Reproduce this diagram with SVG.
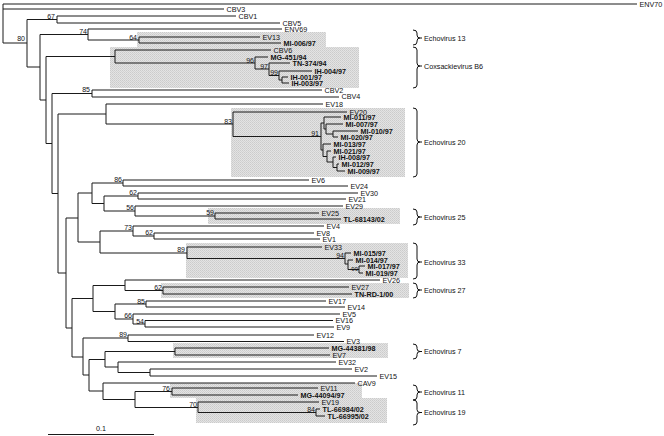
<svg xmlns="http://www.w3.org/2000/svg" width="664" height="436" viewBox="0 0 664 436">
<style>
text{font-family:"Liberation Sans",Arial,sans-serif;font-size:7.2px;fill:#111}
.b{font-weight:bold}
.bs{font-size:7px;text-anchor:end}
.tree{fill:none;stroke:#1a1a1a;stroke-width:1}
.br{fill:none;stroke:#111;stroke-width:1}
.box{fill:url(#dots);stroke:none}
</style>
<defs>
<pattern id="dots" width="2" height="2" patternUnits="userSpaceOnUse">
<rect width="2" height="2" fill="#e3e3e3"/>
<rect width="1" height="1" fill="#cbcbcb"/>
<rect x="1" y="1" width="1" height="1" fill="#d2d2d2"/>
</pattern>
</defs>
<rect width="664" height="436" fill="#fff"/>
<g id="clade-boxes">
<rect class="box" x="137" y="32" width="189" height="16"/>
<rect class="box" x="110" y="47" width="249" height="41"/>
<rect class="box" x="231" y="108" width="174" height="69"/>
<rect class="box" x="208" y="208" width="192" height="16"/>
<rect class="box" x="186" y="243" width="222" height="35"/>
<rect class="box" x="161" y="283" width="248" height="15"/>
<rect class="box" x="173" y="343" width="215" height="15"/>
<rect class="box" x="170" y="383" width="192" height="15"/>
<rect class="box" x="196" y="398" width="191" height="25"/>
</g>
<g id="connectors">
<path class="tree" d="M3,4V43M3,4H637M3,9H224M3,43H27
M27,19.5V67M27,19.5H57M27,67H40
M57,16V23M57,16H236M57,23H280
M40,34.5V100M40,34.5H88M40,100H46
M88,29V40M88,29H282M88,40H139
M139,37V43M139,37H260M139,43H281
M46,56.5V143.5M46,56.5H115M46,143.5H52
M115,50V63M115,50H271M115,63H255
M255,57V69M255,57H268M255,69H269
M269,63V75.5M269,63H290M269,75.5H279
M279,71V80M279,71H312M279,80H282
M282,77V83M282,77H288M282,83H289
M52,93.5V193.5M52,93.5H92M52,193.5H58
M92,90V97M92,90H322M92,97H339
M58,114V273M58,114H106M58,273H66
M106,104V124M106,104H323M106,124H233
M233,112V136.5M233,112H347M233,136.5H321
M321,123V150M321,123H324M321,150H323
M324,117V129M324,117H341M324,129H326
M326,124V134M326,124H343M326,134H333
M333,131V137M333,131H358M333,137H338
M323,144V156.5M323,144H331M323,156.5H327
M327,151V162M327,151H331M327,162H333
M333,157V167.5M333,157H336M333,167.5H337
M337,164V171M337,164H339M337,171H345
M66,218V328M66,218H78M66,328H72
M78,193V242M78,193H92M78,242H100
M92,183V203.5M92,183H123M92,203.5H104
M123,180V186M123,180H309M123,186H348
M104,196V211M104,196H138M104,211H135
M138,193V199M138,193H358M138,199H346
M135,206V216M135,206H343M135,216H215
M215,213V219M215,213H319M215,219H341
M100,231V253M100,231H133M100,253H187
M133,226V236M133,226H324M133,236H154
M154,233V239M154,233H314M154,239H320
M187,247V258.5M187,247H322M187,258.5H345
M345,253V264M345,253H351M345,264H348
M348,260V269.5M348,260H353M348,269.5H359
M359,266V273M359,266H365M359,273H363
M72,298.5V357M72,298.5H93M72,357H83
M93,285.5V311.5M93,285.5H125M93,311.5H115
M125,280V290.5M125,280H380M125,290.5H163
M163,287V294M163,287H349M163,294H352
M115,304V319M115,304H146M115,319H133
M146,301V307M146,301H326M146,307H345
M133,314V324M133,314H340M133,324H145
M145,320.5V327M145,320.5H333M145,327H334
M83,338V375M83,338H128M83,375H89
M128,335V341.5M128,335H314M128,341.5H344
M89,359.5V391M89,359.5H105M89,391H103
M105,351.5V367M105,351.5H175M105,367H118
M175,348V355M175,348H329M175,355H330
M118,362V372.5M118,362H336M118,372.5H150
M150,369V376M150,369H352M150,376H377
M103,383V399.5M103,383H355M103,399.5H135
M135,391.5V407.5M135,391.5H172M135,407.5H198
M172,388V395M172,388H318M172,395H298
M198,402V412.5M198,402H319M198,412.5H316
M316,409V416M316,409H320M316,416H325"/>
</g>
<g id="bootstrap">
<text class="bs" x="25" y="41">80</text>
<text class="bs" x="55" y="19">67</text>
<text class="bs" x="87" y="33.5">74</text>
<text class="bs" x="137" y="39.5">64</text>
<text class="bs" x="254" y="62.5">96</text>
<text class="bs" x="268" y="68.5">97</text>
<text class="bs" x="278" y="75">99</text>
<text class="bs" x="90" y="92">85</text>
<text class="bs" x="232" y="123.5">83</text>
<text class="bs" x="319" y="136">91</text>
<text class="bs" x="122" y="182">86</text>
<text class="bs" x="137" y="195">62</text>
<text class="bs" x="134" y="210">56</text>
<text class="bs" x="214" y="215">59</text>
<text class="bs" x="132" y="230">73</text>
<text class="bs" x="153" y="235">62</text>
<text class="bs" x="185" y="252">89</text>
<text class="bs" x="344" y="258">94</text>
<text class="bs" x="358" y="271" style="font-size:6px">99</text>
<text class="bs" x="162" y="290">62</text>
<text class="bs" x="145" y="303.5">85</text>
<text class="bs" x="132" y="318">66</text>
<text class="bs" x="144" y="323.5">54</text>
<text class="bs" x="127" y="337">89</text>
<text class="bs" x="170" y="391">76</text>
<text class="bs" x="197" y="406.5">70</text>
<text class="bs" x="315" y="411.5">84</text>
</g>
<g id="n-ENV70"><text x="639.5" y="6.6">ENV70</text></g>
<g id="n-CBV3"><text x="226.5" y="11.6">CBV3</text></g>
<g id="n-CBV1"><text x="238.5" y="18.6">CBV1</text></g>
<g id="n-CBV5"><text x="282.5" y="25.6">CBV5</text></g>
<g id="n-ENV69"><text x="284.5" y="31.6">ENV69</text></g>
<g id="n-EV13"><text x="262.5" y="39.6">EV13</text></g>
<g id="n-MI-006-97"><text class="b" x="283.5" y="45.6">MI-006/97</text></g>
<g id="n-CBV6"><text x="273.5" y="52.6">CBV6</text></g>
<g id="n-MG-451-94"><text class="b" x="270.5" y="59.6">MG-451/94</text></g>
<g id="n-TN-374-94"><text class="b" x="292.5" y="65.6">TN-374/94</text></g>
<g id="n-IH-004-97"><text class="b" x="314.5" y="73.6">IH-004/97</text></g>
<g id="n-IH-001-97"><text class="b" x="290.5" y="79.6">IH-001/97</text></g>
<g id="n-IH-003-97"><text class="b" x="291.5" y="85.6">IH-003/97</text></g>
<g id="n-CBV2"><text x="324.5" y="92.6">CBV2</text></g>
<g id="n-CBV4"><text x="341.5" y="98.6">CBV4</text></g>
<g id="n-EV18"><text x="325.5" y="106.6">EV18</text></g>
<g id="n-EV20"><text x="349.5" y="114.6">EV20</text></g>
<g id="n-MI-011-97"><text class="b" x="343.5" y="119.6">MI-011/97</text></g>
<g id="n-MI-007-97"><text class="b" x="345.5" y="126.6">MI-007/97</text></g>
<g id="n-MI-010-97"><text class="b" x="360.5" y="133.6">MI-010/97</text></g>
<g id="n-MI-020-97"><text class="b" x="340.5" y="139.6">MI-020/97</text></g>
<g id="n-MI-013-97"><text class="b" x="333.5" y="146.6">MI-013/97</text></g>
<g id="n-MI-021-97"><text class="b" x="333.5" y="153.6">MI-021/97</text></g>
<g id="n-IH-008-97"><text class="b" x="338.5" y="159.6">IH-008/97</text></g>
<g id="n-MI-012-97"><text class="b" x="341.5" y="166.6">MI-012/97</text></g>
<g id="n-MI-009-97"><text class="b" x="347.5" y="173.6">MI-009/97</text></g>
<g id="n-EV6"><text x="311.5" y="182.6">EV6</text></g>
<g id="n-EV24"><text x="350.5" y="188.6">EV24</text></g>
<g id="n-EV30"><text x="360.5" y="195.6">EV30</text></g>
<g id="n-EV21"><text x="348.5" y="201.6">EV21</text></g>
<g id="n-EV29"><text x="345.5" y="208.6">EV29</text></g>
<g id="n-EV25"><text x="321.5" y="215.6">EV25</text></g>
<g id="n-TL-68143-02"><text class="b" x="343.5" y="221.6">TL-68143/02</text></g>
<g id="n-EV4"><text x="326.5" y="228.6">EV4</text></g>
<g id="n-EV8"><text x="316.5" y="235.6">EV8</text></g>
<g id="n-EV1"><text x="322.5" y="241.6">EV1</text></g>
<g id="n-EV33"><text x="324.5" y="249.6">EV33</text></g>
<g id="n-MI-015-97"><text class="b" x="353.5" y="255.6">MI-015/97</text></g>
<g id="n-MI-014-97"><text class="b" x="355.5" y="262.6">MI-014/97</text></g>
<g id="n-MI-017-97"><text class="b" x="367.5" y="268.6">MI-017/97</text></g>
<g id="n-MI-019-97"><text class="b" x="365.5" y="275.6">MI-019/97</text></g>
<g id="n-EV26"><text x="382.5" y="282.6">EV26</text></g>
<g id="n-EV27"><text x="351.5" y="289.6">EV27</text></g>
<g id="n-TN-RD-1-00"><text class="b" x="354.5" y="296.6">TN-RD-1/00</text></g>
<g id="n-EV17"><text x="328.5" y="303.6">EV17</text></g>
<g id="n-EV14"><text x="347.5" y="309.6">EV14</text></g>
<g id="n-EV5"><text x="342.5" y="316.6">EV5</text></g>
<g id="n-EV16"><text x="335.5" y="323.1">EV16</text></g>
<g id="n-EV9"><text x="336.5" y="329.6">EV9</text></g>
<g id="n-EV12"><text x="316.5" y="337.6">EV12</text></g>
<g id="n-EV3"><text x="346.5" y="344.1">EV3</text></g>
<g id="n-MG-44381-98"><text class="b" x="331.5" y="350.6">MG-44381/98</text></g>
<g id="n-EV7"><text x="332.5" y="357.6">EV7</text></g>
<g id="n-EV32"><text x="338.5" y="364.6">EV32</text></g>
<g id="n-EV2"><text x="354.5" y="371.6">EV2</text></g>
<g id="n-EV15"><text x="379.5" y="378.6">EV15</text></g>
<g id="n-CAV9"><text x="357.5" y="385.6">CAV9</text></g>
<g id="n-EV11"><text x="320.5" y="390.6">EV11</text></g>
<g id="n-MG-44094-97"><text class="b" x="300.5" y="397.6">MG-44094/97</text></g>
<g id="n-EV19"><text x="321.5" y="404.6">EV19</text></g>
<g id="n-TL-66984-02"><text class="b" x="322.5" y="411.6">TL-66984/02</text></g>
<g id="n-TL-66995-02"><text class="b" x="327.5" y="418.6">TL-66995/02</text></g>
<g id="clade-brackets">
<path class="br" d="M413,30Q417,30 417,33V35Q417,38 420,38Q417,38 417,41V42Q417,45 413,45M420,38H422"/>
<path class="br" d="M413,47Q417,47 417,50V63Q417,66 420,66Q417,66 417,69V85Q417,88 413,88M420,66H422"/>
<path class="br" d="M413,108Q417,108 417,111V139Q417,142 420,142Q417,142 417,145V174Q417,177 413,177M420,142H422"/>
<path class="br" d="M413,209Q417,209 417,212V214Q417,217 420,217Q417,217 417,220V222Q417,225 413,225M420,217H422"/>
<path class="br" d="M413,243Q417,243 417,246V259Q417,262 420,262Q417,262 417,265V276Q417,279 413,279M420,262H422"/>
<path class="br" d="M413,283Q417,283 417,286V287Q417,290 420,290Q417,290 417,293V295Q417,298 413,298M420,290H422"/>
<path class="br" d="M413,344Q417,344 417,347V348.5Q417,351.5 420,351.5Q417,351.5 417,354.5V356Q417,359 413,359M420,351.5H422"/>
<path class="br" d="M413,385Q417,385 417,388V389Q417,392 420,392Q417,392 417,395V397Q417,400 413,400M420,392H422"/>
<path class="br" d="M413,400Q417,400 417,403V409.5Q417,412.5 420,412.5Q417,412.5 417,415.5V422Q417,425 413,425M420,412.5H422"/>
<text x="424" y="40.6">Echovirus 13</text>
<text x="424" y="68.6">Coxsackievirus B6</text>
<text x="424" y="144.6">Echovirus 20</text>
<text x="424" y="219.6">Echovirus 25</text>
<text x="424" y="264.6">Echovirus 33</text>
<text x="424" y="292.6">Echovirus 27</text>
<text x="424" y="354.1">Echovirus 7</text>
<text x="424" y="394.6">Echovirus 11</text>
<text x="424" y="415.1">Echovirus 19</text>
</g>
<g id="scale-bar">
<path class="tree" d="M48,434.5H154"/>
<text x="101" y="430.5" text-anchor="middle">0.1</text>
</g>
</svg>
